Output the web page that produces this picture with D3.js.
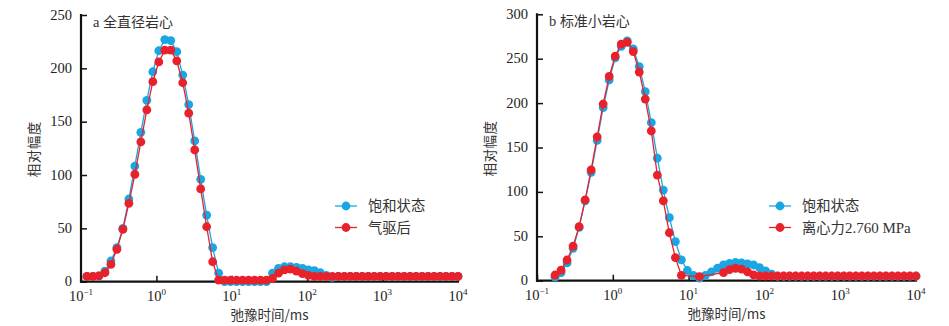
<!DOCTYPE html>
<html><head><meta charset="utf-8">
<script src="https://cdn.jsdelivr.net/npm/d3@7"></script>
<style>
body{margin:0;background:#fff;}
svg{display:block;}
</style>
</head><body>
<svg id="chart" width="949" height="326"></svg>
<script>
// T2 relaxation times (ms), shared grid
const t2 = [0.1,0.1200,0.1441,0.1730,0.2077,0.2493,0.2993,0.3594,0.4314,0.5179,
0.6218,0.7464,0.8961,1.0758,1.2915,1.5505,1.8615,2.2347,2.6827,3.2207,
3.8665,4.6416,5.5722,6.6896,8.0310,9.6414,11.575,13.895,16.681,20.026,
24.041,28.862,34.649,41.596,49.937,59.948,71.969,86.400,103.72,124.52,
149.49,179.46,215.44,258.64,310.50,372.76,447.50,537.23,644.95,774.26,
929.51,1115.9,1339.6,1608.2,1930.7,2317.9,2782.6,3340.6,4010.4,4814.5,
5779.9,6938.8,8330.0,10000];

// Panel a: full-diameter core
const aSaturated = [null,5,5,5.5,10,19.4,32,50,77.5,108.4,
140,170,196.8,216.5,227,226,215.6,193.7,166,132,
96,62.5,32,8,0,0,0,0,0,0,
0,0,8,12.5,14,14,13.5,12.5,11,10.3,
8.4,6,4,5,5,5,5,5,5,5,
5,5,5,5,5,5,5,5,5,5,
5,5,5,5];
const aGasDriven = [null,5,5,5.5,8.4,16.3,30.4,49,73.5,100.7,
131,161,187.5,206,217,217,207,186.5,158,123.5,
87,51.5,18.7,1.5,1.5,1.5,1.5,1.5,1.5,1.5,
1.5,1.5,3,8,11,11.8,10,7.5,6,5,
5,5,5,5,5,5,5,5,5,5,
5,5,5,5,5,5,5,5,5,5,
5,5,5,5];

// Panel b: standard small core
const bSaturated = [null,null,null,4,9,20,36.5,60,90,122,
158,195,226,251,264,270,261,241,213,178,
138,102,71,44,23.5,11.5,6,3,6,10,
14,17.7,19.6,20.5,20,19,17.7,14.6,11,7.5,
5,5,5,5,5,5,5,5,5,5,
5,5,5,5,5,5,5,5,5,5,
5,5,5,5];
const bCentrifuged = [null,null,null,6.4,12,23.3,39,60.8,91,124.7,
162,199,230,253,266.5,268.5,258,235,204.6,168.6,
119,90,54,26,6,null,null,4.5,null,null,
null,9,12.5,14,13,10,6.5,5.3,5.3,5.3,
5.3,5.3,5.3,5.3,5.3,5.3,5.3,5.3,5.3,5.3,
5.3,5.3,5.3,5.3,5.3,5.3,5.3,5.3,5.3,5.3,
5.3,5.3,5.3,5.3];

const xTickExps = [-1,0,1,2,3,4];
const yTicksA = [0,50,100,150,200,250];
const yTicksB = [0,50,100,150,200,250,300];
const titles = ["a 全直径岩心","b 标准小岩心"];
const xLabel = "弛豫时间/ms";
const yLabel = "相对幅度";
const legendA = ["饱和状态","气驱后"];
const legendB = ["饱和状态","离心力","2.760 MPa"];

const BLUE = "#19a6e3", RED = "#e8212a";
const CJK = "'Noto Sans CJK SC', sans-serif";
const SERIF = "'Liberation Serif', 'Times New Roman', serif";

const svg = d3.select("#chart");

function panel(cfg){
  const g = svg.append("g");
  const x = d3.scaleLog().domain([0.1,10000]).range([cfg.x0, cfg.x1]);
  const y = d3.scaleLinear().domain([0, cfg.yMax]).range([cfg.yBottom, cfg.yTop]);

  // axes
  const xAxis = d3.axisBottom(x).tickValues(xTickExps.map(e=>Math.pow(10,e)))
    .tickSizeInner(-6).tickSizeOuter(0).tickFormat("");
  const gx = g.append("g").attr("transform",`translate(0,${cfg.yBottom})`).call(xAxis);
  gx.select(".domain").attr("stroke","#111").attr("stroke-width",2.2)
    .attr("d",`M${cfg.x0-1},0H${cfg.x1+1}`);
  gx.selectAll(".tick line").attr("stroke","#111").attr("stroke-width",1.5);

  const yAxis = d3.axisLeft(y).tickValues(cfg.yTicks).tickSizeInner(-6).tickSizeOuter(0).tickFormat("");
  const gy = g.append("g").attr("transform",`translate(${cfg.x0},0)`).call(yAxis);
  gy.select(".domain").attr("stroke","#111").attr("stroke-width",2.2)
    .attr("d",`M0,${cfg.yTop-1}V${cfg.yBottom+1}`);
  gy.selectAll(".tick line").attr("stroke","#111").attr("stroke-width",1.5);

  // y tick labels
  g.selectAll(".ylab").data(cfg.yTicks).join("text")
    .attr("x", cfg.x0-9).attr("y", d=>y(d)+4.5)
    .attr("text-anchor","end").attr("font-family",SERIF).attr("font-size",14.5)
    .attr("fill","#222").text(d=>d);

  // x tick labels 10^e
  const xl = g.selectAll(".xlab").data(xTickExps).join("text")
    .attr("x", d=>x(Math.pow(10,d))).attr("y", cfg.yBottom+19)
    .attr("text-anchor","middle").attr("font-family",SERIF).attr("font-size",14.5).attr("fill","#222");
  xl.append("tspan").text("10");
  xl.append("tspan").attr("dy",-6).attr("font-size",9).text(d=> d<0 ? "\u2212"+(-d) : String(d));

  // axis titles
  g.append("text").attr("x",(cfg.x0+cfg.x1)/2).attr("y",cfg.yBottom+38)
    .attr("text-anchor","middle").attr("font-family",CJK).attr("font-size",13.5).attr("fill","#333")
    .text(xLabel);
  g.append("text").attr("transform",`translate(${cfg.x0-42},${(cfg.yBottom+cfg.yTop)/2+1}) rotate(-90)`)
    .attr("text-anchor","middle").attr("font-family",CJK).attr("font-size",13.5).attr("fill","#333")
    .attr("letter-spacing",0.5).text(yLabel);

  // panel title
  const tt = g.append("text").attr("x",cfg.x0+12).attr("y",cfg.yTop+12)
    .attr("font-size",14).attr("fill","#333");
  tt.append("tspan").attr("font-family",SERIF).attr("font-size",14.5).text(cfg.title.split(" ")[0]+" ");
  tt.append("tspan").attr("font-family",CJK).attr("font-size",14).text(cfg.title.split(" ")[1]);

  // series
  const line = d3.line().x(d=>x(d[0])).y(d=>y(d[1]));
  cfg.series.forEach(s=>{
    const pts = t2.map((t,i)=>[t,s.values[i]]).filter(d=>d[1]!=null);
    g.append("path").attr("d",line(pts)).attr("fill","none").attr("stroke",s.color).attr("stroke-width",1.3);
    g.append("g").selectAll("circle").data(pts).join("circle")
      .attr("cx",d=>x(d[0])).attr("cy",d=>y(d[1])).attr("r",4.4).attr("fill",s.color);
  });

  // legend
  cfg.legend.forEach((L,k)=>{
    const ly = cfg.legY + k*21.5;
    g.append("line").attr("x1",cfg.legX-11).attr("x2",cfg.legX+11).attr("y1",ly).attr("y2",ly)
      .attr("stroke",L.color).attr("stroke-width",1.3);
    g.append("circle").attr("cx",cfg.legX).attr("cy",ly).attr("r",4.4).attr("fill",L.color);
    const tx = g.append("text").attr("x",cfg.legX+22).attr("y",ly+5).attr("fill","#333");
    L.parts.forEach(p=>tx.append("tspan").attr("font-family",p.serif?SERIF:CJK).attr("font-size",p.serif?15:14.3).text(p.t));
  });
}

panel({x0:81, x1:458, yTop:15, yBottom:281.7, yMax:250, yTicks:yTicksA, title:titles[0],
  series:[{values:aSaturated,color:BLUE},{values:aGasDriven,color:RED}],
  legX:346, legY:206,
  legend:[{color:BLUE,parts:[{t:legendA[0]}]},{color:RED,parts:[{t:legendA[1]}]}]});

panel({x0:537, x1:916, yTop:14.3, yBottom:280.7, yMax:300, yTicks:yTicksB, title:titles[1],
  series:[{values:bSaturated,color:BLUE},{values:bCentrifuged,color:RED}],
  legX:780, legY:206,
  legend:[{color:BLUE,parts:[{t:legendB[0]}]},{color:RED,parts:[{t:legendB[1]},{t:legendB[2],serif:true}]}]});
</script>
</body></html>
